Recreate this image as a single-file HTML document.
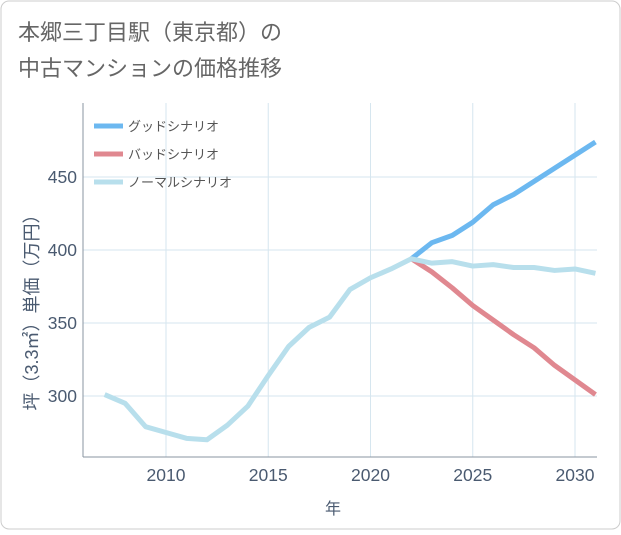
<!DOCTYPE html>
<html><head><meta charset="utf-8"><style>
body{margin:0;background:#fff}
svg text{font-family:"Liberation Sans","Noto Sans CJK JP",sans-serif}
</style></head><body>
<svg width="621" height="530" xmlns="http://www.w3.org/2000/svg">
<rect x="1" y="1" width="619" height="528" rx="8" fill="#fff" stroke="#ccc"/>
<text x="18" y="40" font-size="22" fill="#666">本郷三丁目駅（東京都）の</text>
<text x="18" y="76" font-size="22" fill="#666">中古マンションの価格推移</text>
<g id="grid"></g>
<line x1="83" y1="103" x2="83" y2="457" stroke="#8a94a0"/>
<line x1="83" y1="457" x2="597" y2="457" stroke="#8a94a0"/>
<g id="series"></g>
<g id="labels" font-size="17.5" fill="#4a5a70"></g>
<text x="333" y="514" font-size="16" fill="#4a5a70" text-anchor="middle">年</text>
<text transform="translate(38,308) rotate(-90)" font-size="18" fill="#4a5a70" text-anchor="middle">坪（3.3㎡）単価（万円）</text>
<g>
<line x1="94" y1="126" x2="123" y2="126" stroke="#6cb8f0" stroke-width="5"/>
<text x="128" y="131" font-size="13" fill="#555">グッドシナリオ</text>
<line x1="94" y1="154" x2="123" y2="154" stroke="#e08890" stroke-width="5"/>
<text x="128" y="159" font-size="13" fill="#555">バッドシナリオ</text>
<line x1="94" y1="182" x2="123" y2="182" stroke="#b8dfec" stroke-width="5"/>
<text x="128" y="187" font-size="13" fill="#555">ノーマルシナリオ</text>
</g>
</svg>
<script>
const years=[2007,2008,2009,2010,2011,2012,2013,2014,2015,2016,2017,2018,2019,2020,2021,2022,2023,2024,2025,2026,2027,2028,2029,2030,2031];
const normal=[301,295,279,275,271,270,280,293,314,334,347,354,373,381,387,394,391,392,389,390,388,388,386,387,384];
const futureYears=[2022,2023,2024,2025,2026,2027,2028,2029,2030,2031];
const good=[394,405,410,419,431,438,447,456,465,474];
const bad=[394,385,374,362,352,342,333,321,311,301];
const xTicks=[2010,2015,2020,2025,2030];
const yTicks=[300,350,400,450];
const NS="http://www.w3.org/2000/svg";
const X=y=>166+(y-2010)*20.45;
const Y=v=>250-(v-400)*1.46;
const grid=document.getElementById('grid'),labels=document.getElementById('labels'),series=document.getElementById('series');
xTicks.forEach(t=>{
 const l=document.createElementNS(NS,'line');
 l.setAttribute('x1',X(t));l.setAttribute('x2',X(t));l.setAttribute('y1',103);l.setAttribute('y2',457);
 l.setAttribute('stroke','#d6e6ef');
 
 
 grid.appendChild(l);
 const t2=document.createElementNS(NS,'text');
 t2.setAttribute('x',X(t));t2.setAttribute('y',481);t2.setAttribute('text-anchor','middle');t2.textContent=t;
 
 
 labels.appendChild(t2);
});
yTicks.forEach(t=>{
 const l=document.createElementNS(NS,'line');
 l.setAttribute('x1',83);l.setAttribute('x2',597);l.setAttribute('y1',Y(t));l.setAttribute('y2',Y(t));
 l.setAttribute('stroke','#d6e6ef');
 
 
 grid.appendChild(l);
 const t2=document.createElementNS(NS,'text');
 t2.setAttribute('x',77);t2.setAttribute('y',Y(t)+6);t2.setAttribute('text-anchor','end');t2.textContent=t;
 
 
 labels.appendChild(t2);
});
function line(xs,vs,color,name){
 const p=document.createElementNS(NS,'polyline');
 p.setAttribute('points',xs.map((y,i)=>X(y)+','+Y(vs[i])).join(' '));
 p.setAttribute('fill','none');p.setAttribute('stroke',color);p.setAttribute('stroke-width',5);p.setAttribute('stroke-linejoin','round');
 
 
 series.appendChild(p);
}
line(futureYears,good,'#6cb8f0','good-line');
line(futureYears,bad,'#e08890','bad-line');
line(years,normal,'#b8dfec','normal-line');
</script>
</body></html>
